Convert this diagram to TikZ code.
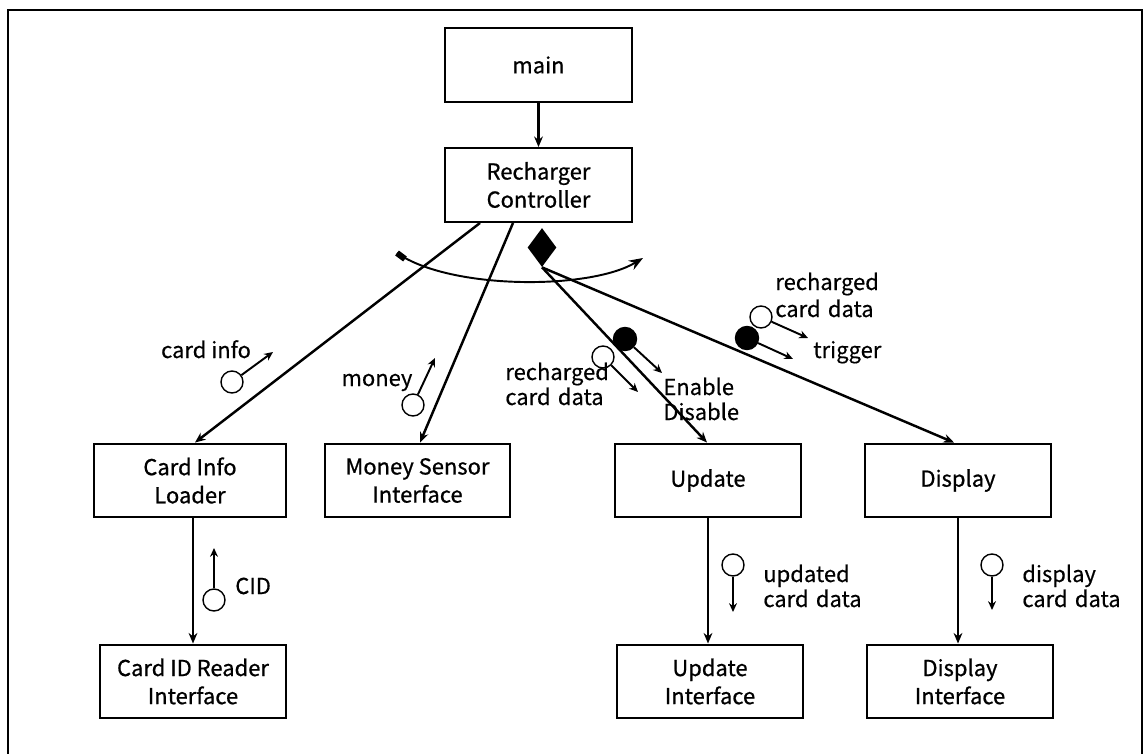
\documentclass[tikz,border=0pt]{standalone}
\usepackage{fontspec}
\setmainfont{Noto Sans CJK KR}
\newfontfamily\boxfont{Noto Sans CJK KR}[FakeBold=0.8]
\newfontfamily\lblfont{Noto Sans CJK KR}[FakeBold=0.4]
\usetikzlibrary{shapes.geometric,arrows.meta,calc}
\tikzset{
  box/.style={draw,line width=1.4pt,minimum height=1.47cm,inner sep=0pt,align=center,font=\boxfont\fontsize{12.5}{16}\selectfont},
  conn/.style={line width=1.4pt,-{Stealth[length=6pt,width=5pt]}},
  carr/.style={line width=1.1pt,-{Stealth[length=5pt,width=4.5pt]}},
  oc/.style={draw,circle,line width=0.8pt,fill=white,minimum size=0.44cm,inner sep=0pt},
  fc/.style={draw,circle,line width=0.8pt,fill=black,minimum size=0.46cm,inner sep=0pt},
  lbl/.style={inner sep=0pt,anchor=base west,font=\lblfont\fontsize{12.5}{15}\selectfont},
}
\begin{document}
\begin{tikzpicture}[x=0.02cm,y=-0.02cm]
\useasboundingbox (0,0) rectangle (1147,754);
\draw[line width=1.4pt] (8,760) -- (8,10) -- (1142,10) -- (1142,760);
% boxes
\node[box,minimum width=3.74cm] (main) at (538.5,65) {main};
\node[box,minimum width=3.74cm] (ctrl) at (538.5,185) {Recharger\\Controller};
\node[box,minimum width=3.84cm] (cil) at (190,480.5) {Card Info\\Loader};
\node[box,minimum width=3.70cm] (msi) at (417.5,480.5) {Money Sensor\\Interface};
\node[box,minimum width=3.72cm] (upd) at (708,480.5) {Update};
\node[box,minimum width=3.72cm] (dsp) at (958,480.5) {Display};
\node[box,minimum width=3.72cm] (cidr) at (193,681.5) {Card ID Reader\\Interface};
\node[box,minimum width=3.72cm] (updi) at (710,681.5) {Update\\Interface};
\node[box,minimum width=3.72cm] (dspi) at (960,681.5) {Display\\Interface};
\node[diamond,fill=black,inner sep=0pt,minimum width=0.58cm,minimum height=0.78cm] (dia) at (542,247.5) {};
% connectors
\draw[conn] (main) -- (ctrl);
\draw[conn] ([xshift=-1.17cm]ctrl.south) -- ([xshift=0.1cm]cil.north);
\draw[conn] ([xshift=-0.51cm]ctrl.south) -- ([xshift=0.05cm]msi.north);
\draw[conn] (dia.south) -- ([xshift=-0.02cm]upd.north);
\draw[conn] (dia.south) -- ([xshift=-0.08cm]dsp.north);
\coordinate (cs) at ([xshift=0.06cm]cil.south);
\draw[conn] (cs) -- (cs |- cidr.north);
\draw[conn] (upd.south) -- (upd.south |- updi.north);
\draw[conn] (dsp.south) -- (dsp.south |- dspi.north);
% loop
\coordinate (l0) at (397,253);
\coordinate (l1) at (643,258);
\draw[line width=1.1pt,-{Stealth[length=8pt,width=6pt]}] (l0) .. controls (450,290) and (590,290) .. (l1);
\draw[line width=3.5pt] (l0) -- ++(8,6);
% couples
\node[oc] (c1) at (232,382) {};
\coordinate (a1) at (273,352);
\draw[carr] (c1) -- (a1);
\node[lbl,anchor=base] at (206,358) {card info};

\node[oc] (c2) at (413,405) {};
\coordinate (a2) at (435,358);
\draw[carr] (c2) -- (a2);
\node[lbl,anchor=base] at (377,386) {money};

\node[fc] (c3) at (625,339) {};
\coordinate (a3) at (662,373);
\draw[carr] (c3) -- (a3);
\node[oc] (c4) at (603,357) {};
\coordinate (a4) at (638,392);
\draw[carr] (c4) -- (a4);
\node[lbl] at (505,380) {recharged};
\node[lbl] at (505,405) {card\,\,data};
\node[lbl] at (663,395) {Enable};
\node[lbl] at (663,420) {Disable};

\node[oc] (c5) at (761,317) {};
\coordinate (a5) at (808,338);
\draw[carr] (c5) -- (a5);
\node[fc] (c6) at (747,338) {};
\coordinate (a6) at (793,359);
\draw[carr] (c6) -- (a6);
\node[lbl] at (775,290) {recharged};
\node[lbl] at (775,317) {card\,\,data};
\node[lbl] at (813,358) {trigger};

\node[oc] (c7) at (214,600) {};
\coordinate (a7) at (214,548);
\draw[carr] (c7) -- (a7);
\node[lbl] at (235,594) {CID};

\node[oc] (c8) at (733,565) {};
\coordinate (a8) at (733,612);
\draw[carr] (c8) -- (a8);
\node[lbl] at (763,582) {updated};
\node[lbl] at (763,607) {card\,\,data};

\node[oc] (c9) at (992,565) {};
\coordinate (a9) at (992,610);
\draw[carr] (c9) -- (a9);
\node[lbl] at (1022,582) {display};
\node[lbl] at (1022,607) {card\,\,data};
\end{tikzpicture}
\end{document}
